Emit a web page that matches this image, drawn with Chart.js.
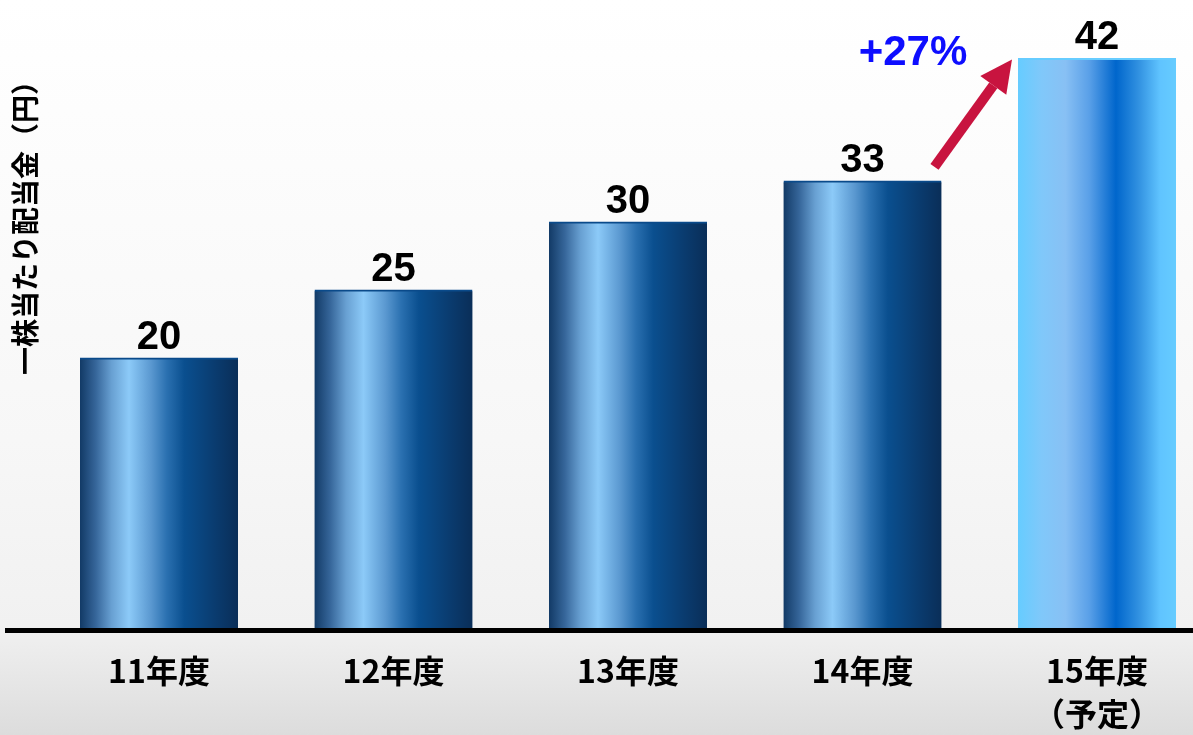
<!DOCTYPE html>
<html>
<head>
<meta charset="utf-8">
<script src="https://cdn.jsdelivr.net/npm/chart.js@4.4.1/dist/chart.umd.min.js"></script>
<style>
  html, body { margin: 0; padding: 0; overflow: hidden; }
  body {
    width: 1193px; height: 735px;
    background: linear-gradient(to bottom, #ffffff 0%, #f7f7f7 60%, #f1f1f1 85%, #dcdcdc 100%);
  }
  canvas { display: block; }
</style>
</head>
<body>
<canvas id="dividendChart" width="1193" height="735"></canvas>
<script>
// 一株当たり配当金 chart

const categories = ['11年度', '12年度', '13年度', '14年度', ['15年度', '（予定）']];
const dividends = [20, 25, 30, 33, 42];
const yRange = [0, 46];
const axisTitle = '一株当たり配当金（円）';

// gradient stops for the bars (left -> right)
const actualStops = [
  [0, '#123a66'], [0.1, '#36669a'], [0.2, '#68a0d2'], [0.31, '#8ccaf8'],
  [0.45, '#5a98d0'], [0.55, '#2a70b0'], [0.66, '#0a4f8f'], [0.85, '#0a3c70'], [1, '#0a2e58']
];
const planStops = [
  [0, '#66ccff'], [0.15, '#80c8fa'], [0.3, '#88c0f4'], [0.45, '#5aa0e8'],
  [0.62, '#0066cc'], [0.76, '#3090e0'], [0.9, '#60c4ff'], [1, '#66ccff']
];
const BAR_W = 158;
const jpFont = '"Noto Sans CJK JP", "Noto Sans", sans-serif';
const numFont = '"Liberation Sans", Arial, sans-serif';

function barFill(c) {
  const chart = c.chart;
  if (!chart.chartArea || c.dataIndex === undefined) return '#0a4f8f';
  const cx = chart.scales.x.getPixelForValue(c.dataIndex);
  const g = chart.ctx.createLinearGradient(cx - BAR_W / 2, 0, cx + BAR_W / 2, 0);
  const stops = c.dataIndex === dividends.length - 1 ? planStops : actualStops;
  stops.forEach(([o, col]) => g.addColorStop(o, col));
  return g;
}

const overlay = {
  id: 'overlay',
  afterDatasetsDraw(chart) {
    const { ctx, scales } = chart;
    const bars = chart.getDatasetMeta(0).data;
    const y0 = scales.y.getPixelForValue(0);
    ctx.save();

    // baseline
    ctx.fillStyle = '#000';
    ctx.fillRect(5, y0 - 2, chart.width - 5, 5);

    // value labels
    ctx.font = 'bold 40px ' + numFont;
    ctx.textAlign = 'center';
    ctx.textBaseline = 'alphabetic';
    bars.forEach((b, i) => ctx.fillText(String(dividends[i]), b.x, b.y - 9));

    // growth arrow from last actual bar to plan bar
    const from = bars[bars.length - 2];
    const to = bars[bars.length - 1];
    const tx = from.x + 72, ty = from.y - 14;
    const hx = to.x - 85, hy = to.y + 1;
    const ang = Math.atan2(hy - ty, hx - tx);
    const headLen = 32, headHalf = 16;
    const bx = hx - headLen * Math.cos(ang), by = hy - headLen * Math.sin(ang);
    ctx.strokeStyle = '#c8143f';
    ctx.fillStyle = '#c8143f';
    ctx.lineWidth = 10;
    ctx.beginPath();
    ctx.moveTo(tx, ty);
    ctx.lineTo(bx, by);
    ctx.stroke();
    ctx.beginPath();
    ctx.moveTo(hx, hy);
    ctx.lineTo(bx + headHalf * Math.sin(ang), by - headHalf * Math.cos(ang));
    ctx.lineTo(bx - headHalf * Math.sin(ang), by + headHalf * Math.cos(ang));
    ctx.closePath();
    ctx.fill();

    // growth label
    const last = dividends[dividends.length - 1];
    const prev = dividends[dividends.length - 2];
    const pct = Math.round((last / prev - 1) * 100);
    ctx.fillStyle = '#0d0dff';
    ctx.font = 'bold 42px ' + numFont;
    ctx.textBaseline = 'middle';
    ctx.fillText('+' + pct + '%', to.x - 184, to.y - 5);

    // y axis title
    ctx.fillStyle = '#000';
    ctx.font = 'bold 28px ' + jpFont;
    ctx.translate(25, 221);
    ctx.rotate(-Math.PI / 2);
    ctx.fillText(axisTitle, 0, 0);

    ctx.restore();
  }
};

new Chart(document.getElementById('dividendChart'), {
  type: 'bar',
  data: {
    labels: categories,
    datasets: [{
      data: dividends,
      backgroundColor: barFill,
      borderColor: dividends.map((v, i) => i === dividends.length - 1 ? '#66ccff' : '#0a4a8a'),
      borderWidth: { top: 2, left: 0, right: 0, bottom: 0 },
      borderSkipped: 'bottom',
      barThickness: BAR_W,
      clip: false
    }]
  },
  options: {
    responsive: false,
    devicePixelRatio: 1,
    animation: false,
    layout: { padding: { left: 159, right: 96, top: 4, bottom: 0 } },
    plugins: { legend: { display: false }, tooltip: { enabled: false } },
    scales: {
      x: {
        offset: false,
        grid: { display: false, drawTicks: false },
        border: { display: false },
        afterFit(scale) { scale.height = 105; },
        ticks: {
          color: '#000',
          padding: 20,
          maxRotation: 0,
          autoSkip: false,
          font: { family: jpFont, size: 32, weight: 'bold', lineHeight: 1.32 }
        }
      },
      y: { display: false, min: yRange[0], max: yRange[1] }
    }
  },
  plugins: [overlay]
});
</script>
</body>
</html>
